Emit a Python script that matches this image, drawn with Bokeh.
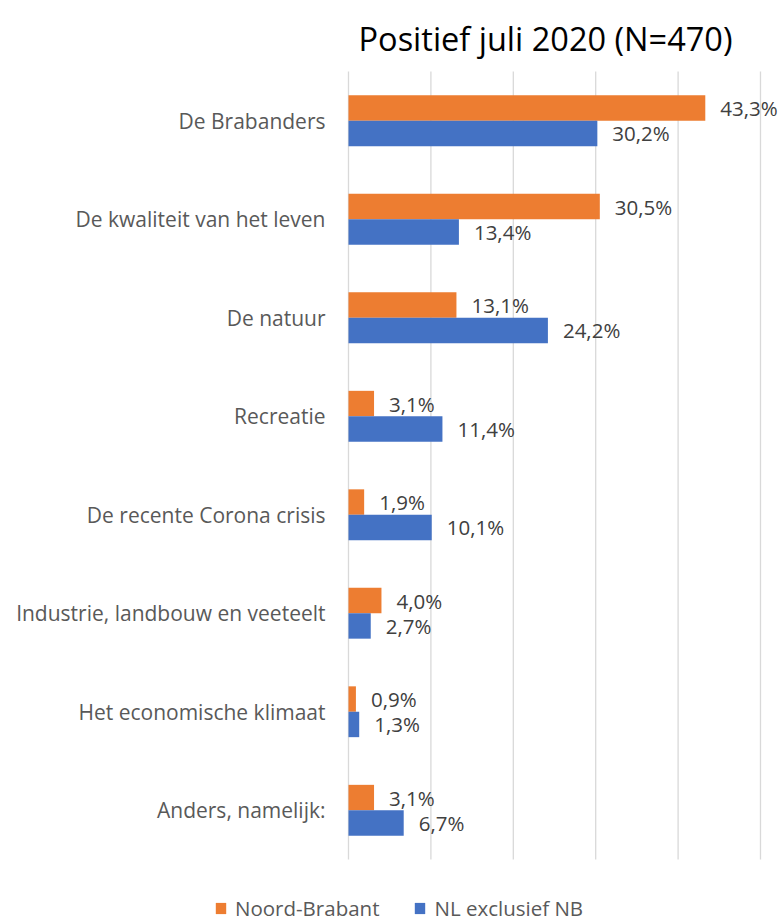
from bokeh.plotting import figure
from bokeh.models import (Range1d, ColumnDataSource, Legend, LegendItem, Label)
from bokeh.transform import dodge
from bokeh.core.properties import value
from bokeh.embed import file_html
from bokeh.resources import INLINE

categories = ["De Brabanders", "De kwaliteit van het leven", "De natuur", "Recreatie",
              "De recente Corona crisis", "Industrie, landbouw en veeteelt",
              "Het economische klimaat", "Anders, namelijk:"]
noord_brabant = [43.3, 30.5, 13.1, 3.1, 1.9, 4.0, 0.9, 3.1]
nl_exclusief_nb = [30.2, 13.4, 24.2, 11.4, 10.1, 2.7, 1.3, 6.7]
grid_ticks = [0, 10, 20, 30, 40, 50]
title_text = "Positief juli 2020 (N=470)"

ORANGE = "#ED7D31"
BLUE = "#4472C4"
FONT = "Open Sans"

def fmt(v):
    return f"{v:.1f}".replace(".", ",") + "%"

n = len(categories)
src = ColumnDataSource(dict(
    pos=list(range(n)),
    zero=[0] * n,
    cat=categories,
    nb=noord_brabant,
    nl=nl_exclusief_nb,
    nb_lab=[fmt(v) for v in noord_brabant],
    nl_lab=[fmt(v) for v in nl_exclusief_nb],
))
grid_src = ColumnDataSource(dict(x=grid_ticks,
                                 y0=[-0.5] * len(grid_ticks),
                                 y1=[n - 0.5] * len(grid_ticks)))

# whole canvas is the plot frame: category position i sits at 120.25 + 98.5*i px from top
W, H = 782, 921
px_per_pct = 8.24
zero_px = 348
step = 98.5
first = 120.25
p = figure(width=W, height=H, output_backend="svg", toolbar_location=None, title=None,
           x_range=Range1d(-zero_px / px_per_pct, (W - zero_px) / px_per_pct),
           y_range=Range1d((H - first) / step, -first / step),
           min_border_left=0, min_border_right=0, min_border_top=0, min_border_bottom=0)
p.axis.visible = False
p.grid.visible = False
p.outline_line_color = None
p.background_fill_color = "white"
p.border_fill_color = "white"

# vertical gridlines
p.segment(x0="x", y0="y0", x1="x", y1="y1", source=grid_src,
          line_color="#D9D9D9", line_width=1.3)

bh = 0.258
off = 0.129
r_nb = p.hbar(y=dodge("pos", -off), right="nb", left=0, height=bh,
              source=src, fill_color=ORANGE, line_color=None)
r_nl = p.hbar(y=dodge("pos", off), right="nl", left=0, height=bh,
              source=src, fill_color=BLUE, line_color=None)

for col, lab, o in (("nb", "nb_lab", -off), ("nl", "nl_lab", off)):
    p.text(x=col, y=dodge("pos", o), text=lab, source=src,
           x_offset=15, text_align="left", text_baseline="middle",
           text_font=value(FONT), text_font_size="20.5px", text_color="#404040")

# category labels
p.text(x="zero", y="pos", text="cat", source=src, x_offset=-23,
       text_align="right", text_baseline="middle",
       text_font=value(FONT), text_font_size="21px", text_color="#595959")

# title
p.add_layout(Label(x=(545 - zero_px) / px_per_pct, y=(38 - first) / step, text=title_text,
                   text_align="center", text_baseline="alphabetic", text_font=FONT,
                   text_font_size="32.5px", text_color="black"))

legend = Legend(items=[LegendItem(label="Noord-Brabant", renderers=[r_nb]),
                       LegendItem(label="NL exclusief NB", renderers=[r_nl])],
                orientation="horizontal", location=(214, -1),
                padding=0, margin=0, spacing=34, label_standoff=8,
                glyph_width=13, glyph_height=14, label_height=21,
                label_text_font=FONT, label_text_font_size="20.5px",
                label_text_color="#595959", background_fill_alpha=0,
                border_line_color=None)
p.add_layout(legend, "center")

open("out.html", "w").write(file_html(p, INLINE))
